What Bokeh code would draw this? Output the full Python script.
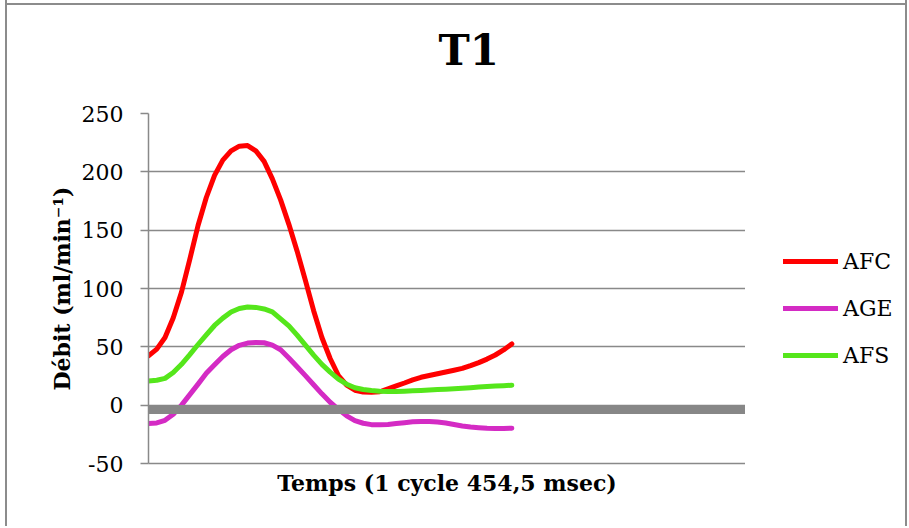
from bokeh.plotting import figure
from bokeh.layouts import row
from bokeh.models import Range1d, FixedTicker, Span, Legend, LegendItem
from bokeh.embed import file_html
from bokeh.resources import INLINE

# ---- data ----
sample = list(range(45))
afc = [42.3, 48, 58, 75, 97, 125, 154, 178, 197, 210, 218, 222, 222.5, 218, 209,
       194, 176, 155, 132, 107, 81, 58, 40, 25.4, 17.2, 12.8, 11.3, 11, 11.5, 14,
       16.5, 19, 21.7, 23.9, 25.4, 26.9, 28.4, 29.9, 31.5, 33.9, 36.5, 39.5, 43, 47.3, 52.5]
age = [-15.7, -15.2, -13, -7.8, 0, 9, 18, 27.3, 34.6, 41.7, 47.5, 51.3, 53.2, 53.8, 53.5,
       51.5, 47.5, 40.5, 33, 25.3, 17.5, 9.7, 2.5, -3.6, -9.1, -13.3, -15.5, -16.7, -16.8, -16.6,
       -15.8, -15, -14.3, -14, -14, -14.5, -15.3, -16.5, -17.8, -18.7, -19.3, -19.8, -20, -20, -19.7]
afs = [20.8, 21.4, 23, 28, 35, 43.3, 52, 60.3, 68.3, 74.6, 79.8, 82.9, 84.2, 83.8, 82.5,
       80, 74, 68, 60, 51.5, 42.9, 35, 28.3, 22.3, 18, 14.9, 13.4, 12.5, 12, 11.8,
       11.8, 12, 12.3, 12.6, 13, 13.4, 13.7, 14.1, 14.5, 15, 15.5, 16, 16.4, 16.7, 17.1]
baseline_value = -3.7
y_ticks = [-50, 0, 50, 100, 150, 200, 250]
y_tick_labels = ["-50", "0", "50", "100", "150", "200", "250"]
series_names = ["AFC", "AGE", "AFS"]
series_colors = ["#FF0000", "#D42BC4", "#55E61B"]

SERIF = "DejaVu Serif"
GRAY = "#898989"
H = 539

p = figure(width=738, height=H, output_backend="svg", toolbar_location=None,
           x_range=Range1d(0, 72.3), y_range=Range1d(-50, 250),
           min_border_left=141, min_border_right=0, min_border_top=126,
           min_border_bottom=63,
           title="T1")
p.outline_line_color = None
p.background_fill_color = "white"
p.border_fill_alpha = 0

p.title.align = "left"
p.title.vertical_align = "top"
p.title.offset = 290
p.title.text_font = SERIF
p.title.text_font_style = "bold"
p.title.text_font_size = "42px"
p.title.text_color = "black"
p.title.standoff = 73

# grid
p.xgrid.visible = False
p.ygrid.ticker = FixedTicker(ticks=y_ticks)
p.ygrid.grid_line_color = GRAY
p.ygrid.grid_line_width = 1.5

# y axis
p.yaxis.ticker = FixedTicker(ticks=y_ticks)
p.yaxis.major_label_overrides = {t: s for t, s in zip(y_ticks, y_tick_labels)}
p.yaxis.axis_line_color = GRAY
p.yaxis.axis_line_width = 1.5
p.yaxis.major_tick_line_color = GRAY
p.yaxis.major_tick_line_width = 1.5
p.yaxis.major_tick_out = 8
p.yaxis.major_tick_in = 0
p.yaxis.minor_tick_line_color = None
p.yaxis.major_label_text_font = SERIF
p.yaxis.major_label_text_font_size = "22px"
p.yaxis.major_label_text_color = "black"
p.yaxis.major_label_standoff = 17
p.yaxis.axis_label = "Débit (ml/min⁻¹)"
p.yaxis.axis_label_text_font = SERIF
p.yaxis.axis_label_text_font_style = "bold"
p.yaxis.axis_label_text_font_size = "22px"
p.yaxis.axis_label_text_color = "black"
p.yaxis.axis_label_standoff = 4

# x axis
p.xaxis.ticker = FixedTicker(ticks=[])
p.xaxis.axis_line_color = GRAY
p.xaxis.axis_line_width = 1.5
p.xaxis.major_tick_line_color = None
p.xaxis.minor_tick_line_color = None
p.xaxis.major_label_text_font_size = "0px"
p.xaxis.axis_label = "Temps (1 cycle 454,5 msec)"
p.xaxis.axis_label_text_font = SERIF
p.xaxis.axis_label_text_font_style = "bold"
p.xaxis.axis_label_text_font_size = "22px"
p.xaxis.axis_label_text_color = "black"
p.xaxis.axis_label_standoff = 6

# thick gray zero line
p.add_layout(Span(location=baseline_value, dimension="width", line_color="#878787",
                  line_width=9))

for name, ys, col in zip(series_names, [afc, age, afs], series_colors):
    p.line(sample, ys, line_color=col, line_width=5, line_cap="round", line_join="round")

# legend panel (separate figure to the right of the plot area)
q = figure(width=160, height=H, output_backend="svg", toolbar_location=None,
           x_range=Range1d(0, 1), y_range=Range1d(0, 1),
           x_axis_type=None, y_axis_type=None, min_border=0)
q.outline_line_color = None
q.grid.visible = False
q.border_fill_alpha = 0
q.background_fill_alpha = 0
nan = float("nan")
legend_renderers = [q.line([nan, nan], [nan, nan], line_color=c, line_width=5,
                           line_cap="round")
                    for c in series_colors]
legend = Legend(items=[LegendItem(label=n, renderers=[r])
                       for n, r in zip(series_names, legend_renderers)],
                location=(38, 95.5), padding=0, margin=0, spacing=22,
                glyph_width=55, glyph_height=20, label_height=20, label_standoff=5,
                border_line_color=None, background_fill_alpha=0,
                label_text_font=SERIF, label_text_font_size="22px",
                label_text_color="black")
q.add_layout(legend, "center")

layout = row(p, q, styles={"margin-left": "5px", "margin-top": "-13px",
                           "border-left": "2px solid #8c8c8c",
                           "border-right": "2px solid #8c8c8c",
                           "background": "linear-gradient(#8c8c8c, #8c8c8c) 0 16px / 100% 2px no-repeat"})

open("out.html", "w").write(file_html(layout, INLINE))
